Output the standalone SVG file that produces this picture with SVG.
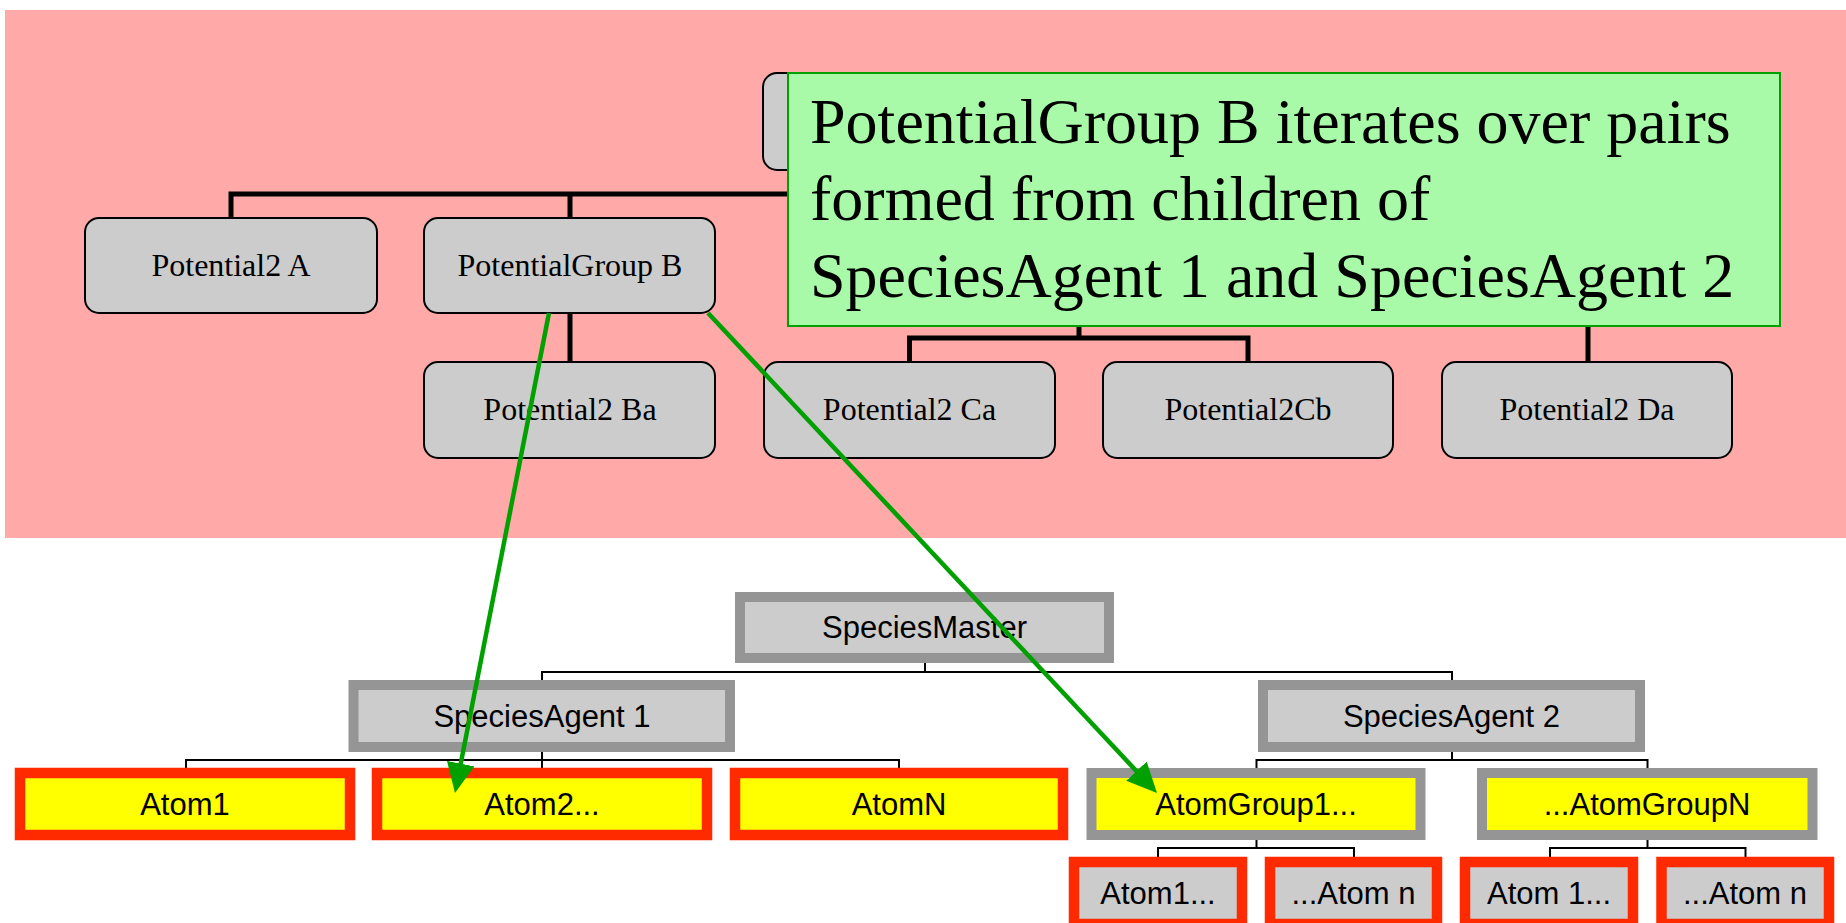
<svg xmlns="http://www.w3.org/2000/svg" width="1846" height="923" viewBox="0 0 1846 923">
<defs>
<style>
.pbox{fill:#cccccc;stroke:#000;stroke-width:2}
.ptxt{font-family:"Liberation Serif","Times New Roman",serif;font-size:32px;text-anchor:middle;fill:#000}
.thick{fill:none;stroke:#000;stroke-width:5}
.thin{fill:none;stroke:#000;stroke-width:2}
.gb{stroke:#959595;stroke-width:10}
.rb{stroke:#ff2a00;stroke-width:10.5}
.gf{fill:#cccccc}
.yf{fill:#ffff00}
.stxt{font-family:"Liberation Sans",Arial,sans-serif;font-size:31px;text-anchor:middle;fill:#000}
.note{font-family:"Liberation Serif","Times New Roman",serif;font-size:64px;fill:#000}
.arrow{fill:none;stroke:#00a000;stroke-width:4.5}
</style>
<marker id="ah" markerUnits="userSpaceOnUse" markerWidth="32" markerHeight="30" refX="22" refY="14" orient="auto">
<path d="M0,0 L30,14 L0,28 z" fill="#00a000"/>
</marker>
</defs>
<rect x="5" y="10" width="1841" height="528" fill="#ffaaa8"/>
<g id="connectors">
<path class="thick" d="M909,170 V194 M231,218 V194 H1588 V362 M570,194 V218 M1079,194 V338 M570,313 V362 M909.5,362 V338 H1248 V362"/>
<path class="thin" d="M925,663 V672 M542,680 V672 H1452 V680 M542,752 V768 M186,768 V760 H899 V768 M1452,752 V760 M1256.5,768 V760 H1647.5 V768 M1256.5,840 V848 M1158,857 V848 H1354 V857 M1647.5,840 V848 M1550,857 V848 H1745.5 V857"/>
</g>
<g id="node-top"><rect class="pbox" x="763" y="73" width="292" height="97" rx="14"/></g>
<g id="node-p2a"><rect class="pbox" x="85" y="218" width="292" height="95" rx="14"/><text class="ptxt" x="231" y="276">Potential2 A</text></g>
<g id="node-pgb"><rect class="pbox" x="424" y="218" width="291" height="95" rx="14"/><text class="ptxt" x="570" y="276">PotentialGroup B</text></g>
<g id="node-p2ba"><rect class="pbox" x="424" y="362" width="291" height="96" rx="14"/><text class="ptxt" x="570" y="420">Potential2 Ba</text></g>
<g id="node-p2ca"><rect class="pbox" x="764" y="362" width="291" height="96" rx="14"/><text class="ptxt" x="909.5" y="420">Potential2 Ca</text></g>
<g id="node-p2cb"><rect class="pbox" x="1103" y="362" width="290" height="96" rx="14"/><text class="ptxt" x="1248" y="420">Potential2Cb</text></g>
<g id="node-p2da"><rect class="pbox" x="1442" y="362" width="290" height="96" rx="14"/><text class="ptxt" x="1587" y="420">Potential2 Da</text></g>
<g id="callout">
<rect x="788" y="73" width="992" height="253" fill="#a8faa8" stroke="#00a000" stroke-width="2"/>
<text class="note" x="810" y="143">PotentialGroup B iterates over pairs</text>
<text class="note" x="810" y="220">formed from children of</text>
<text class="note" x="810" y="297">SpeciesAgent 1 and SpeciesAgent 2</text>
</g>
<g id="node-master"><rect class="gb gf" x="740" y="597" width="369" height="61"/><text class="stxt" x="924.5" y="638">SpeciesMaster</text></g>
<g id="node-agent1"><rect class="gb gf" x="353.5" y="685" width="376.5" height="62"/><text class="stxt" x="542" y="727">SpeciesAgent 1</text></g>
<g id="node-agent2"><rect class="gb gf" x="1263" y="685" width="377" height="62"/><text class="stxt" x="1451.5" y="727">SpeciesAgent 2</text></g>
<g id="node-atom1"><rect class="rb yf" x="20" y="773" width="330" height="62"/><text class="stxt" x="185" y="815">Atom1</text></g>
<g id="node-atom2"><rect class="rb yf" x="377" y="773" width="330" height="62"/><text class="stxt" x="542" y="815">Atom2...</text></g>
<g id="node-atomN"><rect class="rb yf" x="735" y="773" width="328" height="62"/><text class="stxt" x="899" y="815">AtomN</text></g>
<g id="node-ag1"><rect class="gb yf" x="1091.5" y="773" width="329" height="62"/><text class="stxt" x="1256" y="815">AtomGroup1...</text></g>
<g id="node-agN"><rect class="gb yf" x="1482" y="773" width="330.5" height="62"/><text class="stxt" x="1647" y="815">...AtomGroupN</text></g>
<g id="node-ag1a1"><rect class="rb gf" x="1074" y="862" width="168" height="62"/><text class="stxt" x="1158" y="904">Atom1...</text></g>
<g id="node-ag1an"><rect class="rb gf" x="1270" y="862" width="167" height="62"/><text class="stxt" x="1353.5" y="904">...Atom n</text></g>
<g id="node-agNa1"><rect class="rb gf" x="1465" y="862" width="168" height="62"/><text class="stxt" x="1549" y="904">Atom 1...</text></g>
<g id="node-agNan"><rect class="rb gf" x="1661.5" y="862" width="167.5" height="62"/><text class="stxt" x="1745" y="904">...Atom n</text></g>
<g id="arrows">
<line class="arrow" x1="549" y1="313" x2="456.5" y2="785.2" marker-end="url(#ah)"/>
<line class="arrow" x1="708" y1="313" x2="1151.5" y2="787.2" marker-end="url(#ah)"/>
</g>
</svg>
